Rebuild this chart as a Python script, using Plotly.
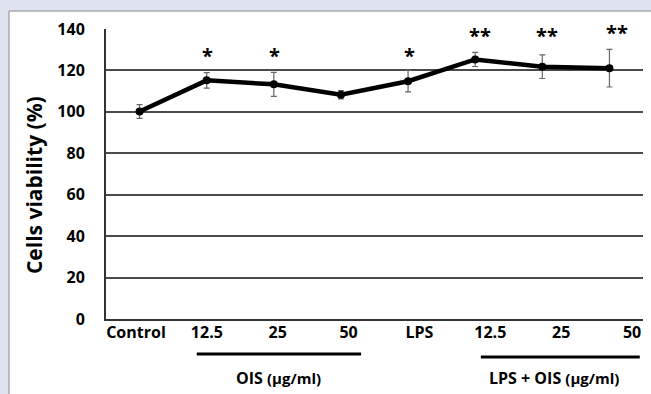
import plotly.graph_objects as go

categories = ["Control", "12.5", "25", "50", "LPS", "12.5", "25", "50"]
viability = [100.2, 115.2, 113.3, 108.3, 114.8, 125.3, 121.8, 121.1]
errors = [3.3, 3.7, 5.8, 2.0, 5.2, 3.4, 5.7, 9.1]
signif = ["", "*", "*", "", "*", "**", "**", "**"]
y_ticks = [0, 20, 40, 60, 80, 100, 120, 140]
group_labels = ["OIS (µg/ml)", "LPS + OIS (µg/ml)"]

FONT = "Open Sans"
idx = list(range(len(categories)))

fig = go.Figure()
fig.add_trace(go.Scatter(
    x=idx, y=viability, mode="lines+markers",
    line=dict(color="black", width=4.5),
    marker=dict(color="black", size=8),
    error_y=dict(type="data", array=errors, visible=True,
                 color="#666666", thickness=1.2, width=3),
    showlegend=False, hoverinfo="skip",
))
# tick-label carrier trace on the secondary category axis
fig.add_trace(go.Scatter(x=idx, y=[None] * len(idx), xaxis="x2",
                         mode="markers", showlegend=False, hoverinfo="skip"))

# significance marks
for i, (v, e, s) in enumerate(zip(viability, errors, signif)):
    if not s:
        continue
    yv = 127 if len(s) == 1 else (138.5 if i == len(idx) - 1 else 137)
    fig.add_annotation(x=i, y=yv, xref="x", yref="y", text=f"<b>{s}</b>", showarrow=False,
                       font=dict(family=FONT, size=20, color="black"),
                       yanchor="middle", xanchor="center",
                       xshift=(8 if i == len(idx) - 1 else (5 if len(s) == 2 else 1)))

# white panel behind plot
fig.add_shape(type="rect", xref="paper", yref="paper",
              x0=-0.1806, x1=1.2, y0=-0.6, y1=1.062,
              line=dict(color="#8a8a8a", width=1), fillcolor="white", layer="below")

# group underlines
fig.add_shape(type="line", xref="paper", yref="paper",
              x0=0.169, x1=0.475, y0=-0.1207, y1=-0.1207,
              line=dict(color="black", width=3))
fig.add_shape(type="line", xref="paper", yref="paper",
              x0=0.698, x1=0.994, y0=-0.131, y1=-0.131,
              line=dict(color="black", width=3))

for gx, lab in zip([0.321, 0.834], group_labels):
    main, rest = lab.split(" (")
    fig.add_annotation(x=gx, y=-0.203, xref="paper", yref="paper", showarrow=False,
                       text=f"<b>{main}</b> <b><span style='font-size:15px'>({rest}</span></b>",
                       font=dict(family=FONT, size=16, color="black"),
                       xanchor="center", yanchor="middle")

# y-axis title
fig.add_annotation(x=0, y=0.462, xref="paper", yref="paper", showarrow=False,
                   text="<b>Cells viability (%)</b>", textangle=-90,
                   font=dict(family=FONT, size=21, color="black"),
                   xanchor="center", yanchor="middle", xshift=-72)

fig.update_layout(
    width=651, height=394,
    margin=dict(l=106, r=8, t=29, b=75),
    paper_bgcolor="#dfe3f0",
    plot_bgcolor="white",
    font=dict(family=FONT, color="black"),
    xaxis=dict(range=[-0.5, 7.5], showticklabels=False, showgrid=False,
               zeroline=False, showline=True, linecolor="#333333", linewidth=2,
               ticks=""),
    xaxis2=dict(overlaying="x", anchor="y", side="bottom",
                range=[-0.423, 7.155], tickmode="array", tickvals=idx,
                ticktext=[f"<b>{c}</b>" for c in categories],
                tickfont=dict(family=FONT, size=16, color="black"),
                showgrid=False, zeroline=False, showline=False, ticks="",
                ticklabelstandoff=2),
    yaxis=dict(range=[0, 140], tickmode="array", tickvals=y_ticks,
               ticktext=[f"<b>{t}</b>" for t in y_ticks],
               tickfont=dict(family=FONT, size=16, color="black"),
               showgrid=True, gridcolor="#4a4a4a", gridwidth=1.5,
               zeroline=False, showline=True, linecolor="#333333", linewidth=2,
               ticks="", ticklabelstandoff=16),
)

fig.write_html("out.html")
